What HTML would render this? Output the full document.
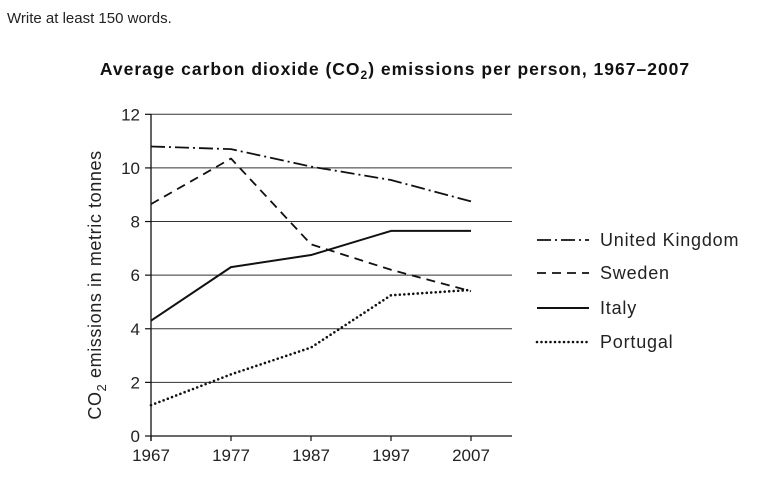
<!DOCTYPE html>
<html><head><meta charset="utf-8"><style>
html,body{margin:0;padding:0;background:#fff;}
svg{display:block;font-family:"Liberation Sans",sans-serif;}
</style></head><body>
<svg id="chart" width="773" height="486" viewBox="0 0 773 486">
<text x="7" y="23" font-size="15" fill="#222">Write at least 150 words.</text>
<text x="395" y="75" font-size="17.5" letter-spacing="1" font-weight="bold" text-anchor="middle" fill="#111">Average carbon dioxide (CO<tspan font-size="12" dy="4">2</tspan><tspan dy="-4">) emissions per person, 1967–2007</tspan></text>
<g id="grid"></g>
<g id="axes"></g>
<g id="series"></g>
<text transform="translate(101,285) rotate(-90)" font-size="18" letter-spacing="0.6" text-anchor="middle" fill="#222">CO<tspan font-size="13" dy="5">2</tspan><tspan dy="-5"> emissions in metric tonnes</tspan></text>
<g id="legend"></g>
</svg>
<script>
const years = [1967, 1977, 1987, 1997, 2007];
const yTicks = [0, 2, 4, 6, 8, 10, 12];
const ukValues = [10.8, 10.7, 10.05, 9.55, 8.75];
const swedenValues = [8.65, 10.35, 7.15, 6.2, 5.4];
const italyValues = [4.3, 6.3, 6.75, 7.65, 7.65];
const portugalValues = [1.15, 2.3, 3.3, 5.25, 5.45];
const seriesNames = ["United Kingdom", "Sweden", "Italy", "Portugal"];

const NS = "http://www.w3.org/2000/svg";
const x0 = 151, x1 = 471, y0 = 436, y1 = 114.3, gridRight = 512;
const sx = v => x0 + (v - years[0]) / (years[years.length - 1] - years[0]) * (x1 - x0);
const sy = v => y0 - (v - 0) / (12 - 0) * (y0 - y1);
function mk(tag, attrs, parent) {
  const e = document.createElementNS(NS, tag);
  for (const k in attrs) e.setAttribute(k, attrs[k]);
  parent.appendChild(e);
  return e;
}
const grid = document.getElementById('grid');
const axes = document.getElementById('axes');
yTicks.forEach(t => {
  const y = sy(t);
  if (t > 0) {
    const g = mk('line', {x1: x0, x2: gridRight, y1: y, y2: y, stroke: '#333', 'stroke-width': 1}, grid);
    
    
  }
  const tk = mk('line', {x1: x0 - 6, x2: x0, y1: y, y2: y, stroke: '#111', 'stroke-width': 1.2}, axes);
  
  
  const lb = mk('text', {x: x0 - 11, y: y + 6, 'font-size': 17, 'text-anchor': 'end', fill: '#222'}, axes);
  lb.textContent = t;
  
  
});
const xa = mk('line', {x1: x0, x2: gridRight, y1: y0, y2: y0, stroke: '#111', 'stroke-width': 1.3}, axes);


const ya = mk('line', {x1: x0, x2: x0, y1: y1, y2: y0 + 5, stroke: '#111', 'stroke-width': 1.3}, axes);


years.forEach(yr => {
  const x = sx(yr);
  const tk = mk('line', {x1: x, x2: x, y1: y0, y2: y0 + 5, stroke: '#111', 'stroke-width': 1.2}, axes);
  
  
  const lb = mk('text', {x: x, y: y0 + 25, 'font-size': 17, 'text-anchor': 'middle', fill: '#222'}, axes);
  lb.textContent = yr;
  
  
});
const styles = [
  {dash: '14 4 2 4', w: 1.8, cap: 'butt'},
  {dash: '9 6', w: 1.8, cap: 'butt'},
  {dash: 'none', w: 2, cap: 'butt'},
  {dash: '0 4.5', w: 2.6, cap: 'round'}
];
const allValues = [ukValues, swedenValues, italyValues, portugalValues];
const seriesG = document.getElementById('series');
const legend = document.getElementById('legend');
const legendY = [240, 273, 308, 342];
allValues.forEach((vals, i) => {
  const pts = vals.map((v, j) => sx(years[j]) + ',' + sy(v)).join(' ');
  const st = styles[i];
  const p = mk('polyline', {points: pts, fill: 'none', stroke: '#111', 'stroke-width': st.w, 'stroke-dasharray': st.dash, 'stroke-linecap': st.cap, 'stroke-linejoin': 'round'}, seriesG);
  
  
  const ly = legendY[i];
  const ls = mk('line', {x1: 537, x2: 589, y1: ly, y2: ly, stroke: '#111', 'stroke-width': st.w, 'stroke-dasharray': st.dash, 'stroke-linecap': st.cap}, legend);
  
  
  const lt = mk('text', {x: 600, y: ly + 6, 'font-size': 18, 'letter-spacing': 0.8, fill: '#222'}, legend);
  lt.textContent = seriesNames[i];
  
  
});
</script>
</body></html>
